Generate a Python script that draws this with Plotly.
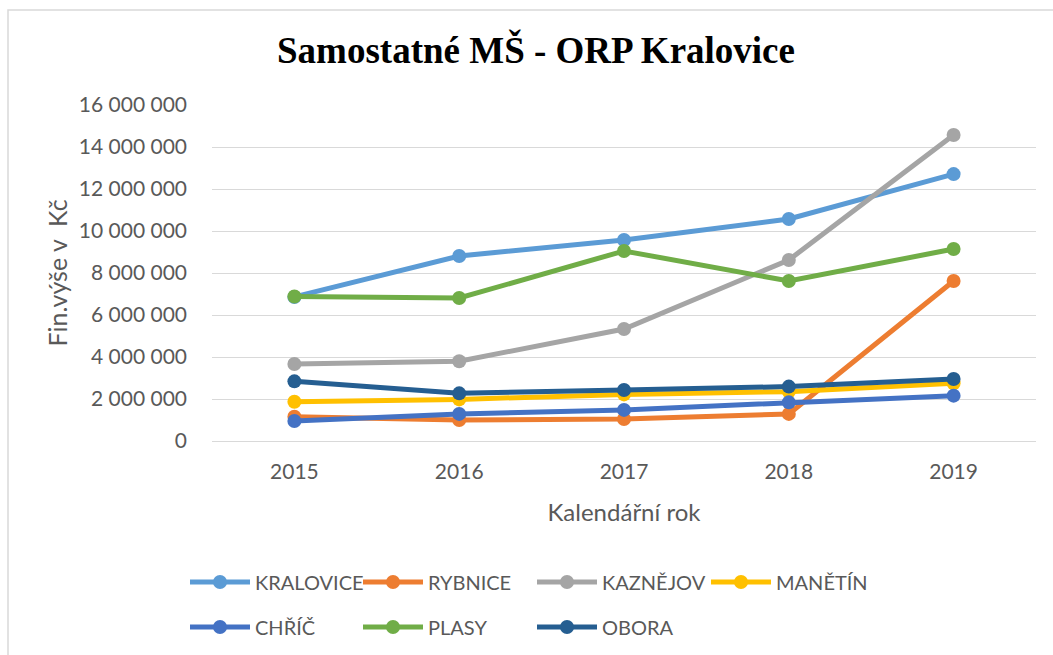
import plotly.graph_objects as go

years = ["2015", "2016", "2017", "2018", "2019"]
series_names = ["KRALOVICE", "RYBNICE", "KAZNĚJOV", "MANĚTÍN", "CHŘÍČ", "PLASY", "OBORA"]
kralovice = [6860000, 8810000, 9570000, 10570000, 12710000]
rybnice = [1160000, 1000000, 1050000, 1290000, 7620000]
kaznejov = [3670000, 3800000, 5330000, 8620000, 14570000]
manetin = [1870000, 1980000, 2220000, 2350000, 2750000]
chric = [950000, 1290000, 1480000, 1840000, 2160000]
plasy = [6880000, 6810000, 9050000, 7620000, 9140000]
obora = [2840000, 2270000, 2430000, 2590000, 2950000]
series_values = [kralovice, rybnice, kaznejov, manetin, chric, plasy, obora]
colors = ["#5B9BD5", "#ED7D31", "#A5A5A5", "#FFC000", "#4472C4", "#70AD47", "#255E91"]

W, H = 1053, 655
FONT = "Lato"
GRAY = "#595959"

# legend entry placement (container pixels): left x, row centre y
legend_px = [(185, 582), (358, 582), (532, 582), (706, 582),
             (185, 627), (358, 627), (532, 627)]

fig = go.Figure()
legend_layout = {}
for i, (name, vals, col) in enumerate(zip(series_names, series_values, colors)):
    lid = "legend" if i == 0 else f"legend{i + 1}"
    fig.add_trace(go.Scatter(
        x=years, y=vals, name=name, mode="lines+markers",
        line=dict(color=col, width=5),
        marker=dict(color=col, size=14),
        legend=lid, showlegend=True,
    ))
    lx, ly = legend_px[i]
    legend_layout[lid] = dict(
        orientation="h", xref="container", yref="container",
        x=lx / W, y=1 - ly / H, xanchor="left", yanchor="middle",
        font=dict(family=FONT, size=20, color=GRAY),
        itemwidth=60, bgcolor="rgba(0,0,0,0)",
    )

fig.update_layout(
    width=W, height=H, showlegend=True,
    paper_bgcolor="white", plot_bgcolor="white",
    margin=dict(l=212, r=17, t=105, b=214, autoexpand=False),
    separators=", ",
    title=dict(text="<b>Samostatné MŠ - ORP Kralovice</b>",
               font=dict(family="Liberation Serif", size=37, color="black"),
               x=536 / W, xanchor="center", y=1 - 50 / H, yanchor="middle"),
    xaxis=dict(type="category", range=[-0.5, 4.5], showgrid=False, zeroline=False,
               showline=False, ticks="", ticklabelstandoff=16,
               tickfont=dict(family=FONT, size=21, color=GRAY),
               title=dict(text="Kalendářní rok", font=dict(family=FONT, size=24, color=GRAY), standoff=22)),
    yaxis=dict(range=[0, 16000000], dtick=2000000, tickformat=",d",
               showgrid=True, gridcolor="#D9D9D9", gridwidth=1.3,
               zeroline=True, zerolinecolor="#D9D9D9", zerolinewidth=1.3,
               showline=False, ticks="", ticklabelstandoff=24,
               tickfont=dict(family=FONT, size=21, color=GRAY),
               title=dict(text="Fin.výše v  Kč", font=dict(family=FONT, size=25, color=GRAY), standoff=4)),
    shapes=[dict(type="rect", xref="paper", yref="paper",
                 x0=-204 / 824, x1=1.1, y0=-0.8, y1=1 + 95 / 336,
                 line=dict(color="#D9D9D9", width=1.5), fillcolor="rgba(0,0,0,0)", layer="below")],
    **legend_layout,
)

fig.write_html("out.html", config={"displayModeBar": False},
               post_script="document.body.style.margin='0';document.body.style.overflow='hidden';")
